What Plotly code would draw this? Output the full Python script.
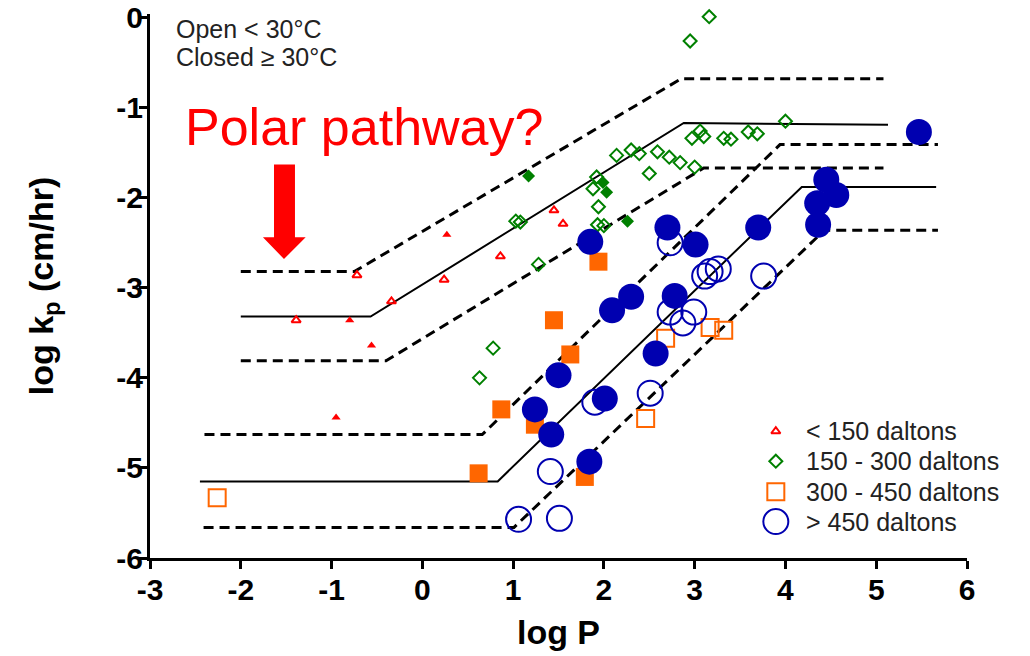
import plotly.graph_objects as go

# ---- measured permeability data: log P vs log kp ----
# < 150 daltons
tri_open_x = [-1.39, -0.72, -0.34, 0.24, 0.86, 1.45, 1.55]
tri_open_y = [-3.36, -2.86, -3.15, -2.91, -2.65, -2.14, -2.29]
tri_fill_x = [-0.95, -0.80, -0.56, 0.27]
tri_fill_y = [-4.44, -3.36, -3.64, -2.41]

# 150 - 300 daltons
dia_open_x = [3.16, 2.95, 4.00, 2.14, 2.30, 2.39, 2.59, 2.72, 2.84, 3.00, 2.50, 2.97, 3.06, 3.10,
              3.32, 3.40, 3.59, 3.69, 1.92, 1.88, 1.94, 1.03, 1.08, 1.93, 2.00, 1.28, 0.78, 0.63]
dia_open_y = [0.01, -0.26, -1.15, -1.53, -1.47, -1.51, -1.49, -1.55, -1.61, -1.66, -1.73, -1.34, -1.26, -1.32,
              -1.34, -1.35, -1.27, -1.29, -1.77, -1.90, -2.10, -2.26, -2.27, -2.30, -2.31, -2.74, -3.67, -4.00]
dia_fill_x = [1.17, 1.99, 2.03, 2.26]
dia_fill_y = [-1.76, -1.83, -1.94, -2.26]

# 300 - 450 daltons
sq_open_x = [-2.26, 2.46, 2.68, 3.17, 3.32]
sq_open_y = [-5.33, -4.45, -3.56, -3.44, -3.47]
sq_fill_x = [1.94, 1.45, 1.63, 0.87, 1.24, 0.62, 1.79]
sq_fill_y = [-2.71, -3.36, -3.74, -4.35, -4.52, -5.06, -5.10]

# > 450 daltons
cir_open_x = [2.73, 3.11, 3.17, 3.26, 3.76, 2.73, 2.99, 2.87, 1.90, 2.51, 1.41, 1.06, 1.51]
cir_open_y = [-2.50, -2.87, -2.82, -2.79, -2.87, -3.27, -3.27, -3.39, -4.27, -4.17, -5.04, -5.57, -5.56]
cir_fill_x = [5.47, 4.45, 4.56, 4.35, 4.36, 3.70, 2.70, 3.01, 2.78, 2.30, 2.57, 1.85, 2.09, 1.50,
              1.24, 1.42, 2.01, 1.84]
cir_fill_y = [-1.27, -1.80, -1.97, -2.06, -2.30, -2.33, -2.33, -2.52, -3.09, -3.10, -3.73, -2.49, -3.25, -3.97,
              -4.35, -4.63, -4.23, -4.93]

# ---- model bands (centre line and bounds) ----
small_mid_x = [-2.0, -0.57, 2.88, 5.13]
small_mid_y = [-3.32, -3.32, -1.17, -1.19]
small_hi_x = [-2.0, -0.75, 2.85, 5.08]
small_hi_y = [-2.82, -2.82, -0.68, -0.68]
small_lo_x = [-2.0, -0.40, 3.10, 5.08]
small_lo_y = [-3.81, -3.81, -1.67, -1.67]

large_mid_x = [-2.45, 0.83, 4.18, 5.66]
large_mid_y = [-5.15, -5.15, -1.88, -1.88]
large_hi_x = [-2.40, 0.66, 3.94, 5.68]
large_hi_y = [-4.63, -4.63, -1.41, -1.41]
large_lo_x = [-2.41, 1.01, 4.43, 5.68]
large_lo_y = [-5.66, -5.66, -2.36, -2.36]

x_ticks = [-3, -2, -1, 0, 1, 2, 3, 4, 5, 6]
y_ticks = [0, -1, -2, -3, -4, -5, -6]

legend_labels = ["< 150 daltons", "150 - 300 daltons", "300 - 450 daltons", "> 450 daltons"]

RED = "#FF0000"
GREEN = "#008000"
ORANGE = "#FF6600"
BLUE = "#0000B0"
FONT = "Liberation Sans, Arial, sans-serif"

fig = go.Figure()

dash_line = dict(color="black", width=3, dash="10px,6px")
solid_line = dict(color="black", width=2)
for xs, ys, ln in [
    (small_hi_x, small_hi_y, dash_line), (small_mid_x, small_mid_y, solid_line), (small_lo_x, small_lo_y, dash_line),
    (large_hi_x, large_hi_y, dash_line), (large_mid_x, large_mid_y, solid_line), (large_lo_x, large_lo_y, dash_line),
]:
    fig.add_trace(go.Scatter(x=xs, y=ys, mode="lines", line=ln, showlegend=False, hoverinfo="skip"))


def pts(xs, ys, symbol, color, size, open_):
    if open_:
        marker = dict(symbol=symbol + "-open", color=color, size=size, line=dict(color=color, width=2))
    else:
        marker = dict(symbol=symbol, color=color, size=size, line=dict(width=0))
    fig.add_trace(go.Scatter(x=xs, y=ys, mode="markers", marker=marker, showlegend=False, cliponaxis=False))


pts(tri_open_x, tri_open_y, "triangle-up", RED, 8, True)
pts(tri_fill_x, tri_fill_y, "triangle-up", RED, 8, False)
pts(dia_open_x, dia_open_y, "diamond", GREEN, 10, True)
pts(dia_fill_x, dia_fill_y, "diamond", GREEN, 10, False)
pts(sq_open_x, sq_open_y, "square", ORANGE, 17, True)
pts(sq_fill_x, sq_fill_y, "square", ORANGE, 18, False)
pts(cir_open_x, cir_open_y, "circle", BLUE, 25, True)
pts(cir_fill_x, cir_fill_y, "circle", BLUE, 26, False)

# ---- legend drawn on an overlay axis in plot-fraction units ----
leg_symbols = ["triangle-up-open", "diamond-open", "square-open", "circle-open"]
leg_colors = [RED, GREEN, ORANGE, BLUE]
leg_sizes = [8, 10, 17, 25]
leg_rows = [0.233, 0.178, 0.122, 0.067]
for sym, col, sz, yy, lab in zip(leg_symbols, leg_colors, leg_sizes, leg_rows, legend_labels):
    fig.add_trace(go.Scatter(x=[0.766], y=[yy], xaxis="x2", yaxis="y2", mode="markers",
                             marker=dict(symbol=sym, color=col, size=sz, line=dict(color=col, width=2)),
                             showlegend=False, hoverinfo="skip", cliponaxis=False))
    fig.add_annotation(x=0.80, y=yy, xref="x2", yref="y2", text=lab, showarrow=False,
                       xanchor="left", yanchor="middle",
                       font=dict(family=FONT, size=25, color="#222222"))

fig.add_annotation(x=-2.74, y=-0.13, xref="x", yref="y", text="Open < 30°C", showarrow=False,
                   xanchor="left", yanchor="middle",
                   font=dict(family=FONT, size=25, color="#222222"))
fig.add_annotation(x=-2.74, y=-0.44, xref="x", yref="y", text="Closed ≥ 30°C", showarrow=False,
                   xanchor="left", yanchor="middle",
                   font=dict(family=FONT, size=25, color="#222222"))
fig.add_annotation(x=-2.64, y=-1.21, xref="x", yref="y", text="Polar pathway?", showarrow=False,
                   xanchor="left", yanchor="middle",
                   font=dict(family=FONT, size=52, color=RED))

# red block arrow
fig.add_shape(type="path", xref="x", yref="y",
              path="M -1.634 -1.63 L -1.403 -1.63 L -1.403 -2.44 L -1.285 -2.44 L -1.524 -2.68 "
                   "L -1.756 -2.44 L -1.634 -2.44 Z",
              fillcolor=RED, line=dict(width=0))

tick_font = dict(family=FONT, size=30, color="black")
title_font = dict(family=FONT, size=34, color="black")

common_axis = dict(showgrid=False, zeroline=False, showline=True, linecolor="black", linewidth=3,
                   ticks="outside", ticklen=8, tickwidth=3, tickcolor="black",
                   tickfont=tick_font, automargin=False)

fig.update_layout(
    width=1030, height=656,
    margin=dict(l=150, r=63, t=14, b=98, autoexpand=False),
    paper_bgcolor="white", plot_bgcolor="white",
    showlegend=False,
    xaxis=dict(range=[-3, 6], tickvals=x_ticks, ticktext=[f"<b>{v}</b>" for v in x_ticks],
               ticklabelstandoff=-5,
               title=dict(text="<b>log P</b>", font=title_font, standoff=16), **common_axis),
    yaxis=dict(range=[-6, 0.04], tickvals=y_ticks, ticktext=[f"<b>{v}</b>" for v in y_ticks],
               ticklabelstandoff=-10,
               title=dict(text="<b>log k<sub>p</sub> (cm/hr)</b>", font=title_font, standoff=53),
               **common_axis),
    xaxis2=dict(range=[0, 1], overlaying="x", visible=False, automargin=False),
    yaxis2=dict(range=[0, 1], overlaying="y", visible=False, automargin=False),
)

fig.write_html("out.html")
